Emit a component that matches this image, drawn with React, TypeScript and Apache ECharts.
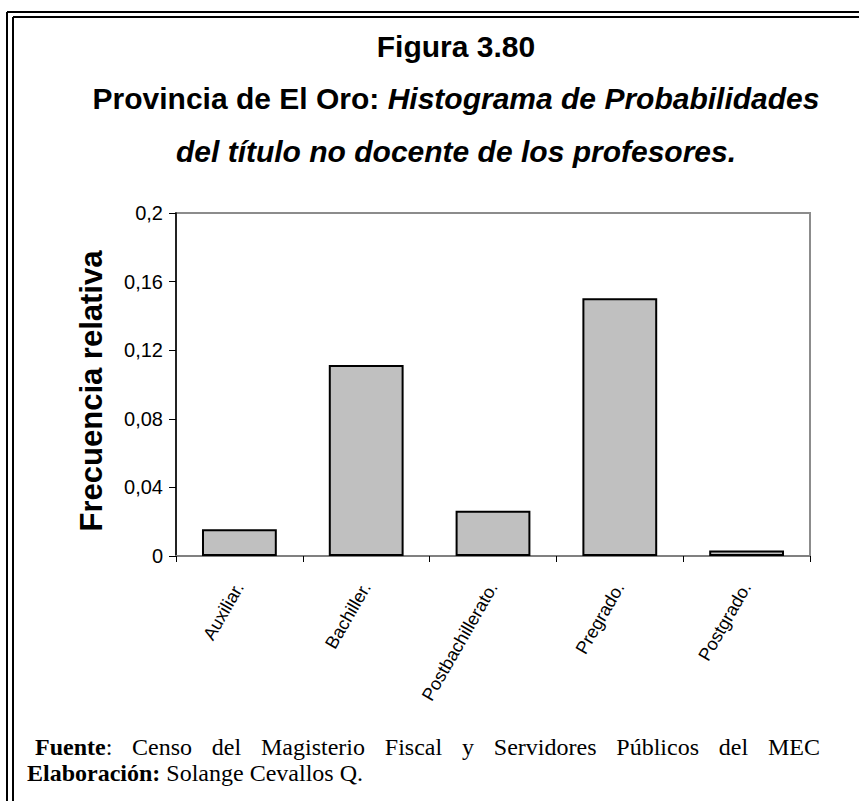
import React, { useEffect, useRef } from 'react';
import * as echarts from 'echarts';

const categories = ['Auxiliar.', 'Bachiller.', 'Postbachillerato.', 'Pregrado.', 'Postgrado.'];
const values = [0.0156, 0.1114, 0.0264, 0.1503, 0.0032];
const yMin = 0;
const yMax = 0.2;
const yStep = 0.04;

const titleLine1 = 'Figura 3.80';
const titleLine2a = 'Provincia de El Oro: ';
const titleLine2b = 'Histograma de Probabilidades';
const titleLine3 = 'del título no docente de los profesores.';
const yName = 'Frecuencia relativa';
const sourceLabel = 'Fuente';
const sourceText = 'Censo del Magisterio Fiscal y Servidores Públicos del MEC';
const authorLabel = 'Elaboración:';
const authorText = ' Solange Cevallos Q.';

const SANS = '"Liberation Sans", Arial, sans-serif';
const SERIF = '"Liberation Serif", "Times New Roman", serif';
const FOOT = 24;

function measure(text: string, font: string) {
  const ctx = document.createElement('canvas').getContext('2d');
  if (!ctx) return text.length * 11;
  ctx.font = font;
  return ctx.measureText(text).width;
}

function footerLine1(xLabel: number, x0: number, x1: number, y: number) {
  const regFont = `${FOOT}px ${SERIF}`;
  const words = sourceText.split(' ');
  const widths = words.map((w) => measure(w, regFont));
  const total = widths.reduce((a, b) => a + b, 0);
  const gap = (x1 - x0 - total) / (words.length - 1);
  const els: any[] = [
    {
      type: 'text',
      x: xLabel,
      y,
      style: {
        text: `{b|${sourceLabel}}{r|:}`,
        align: 'left',
        verticalAlign: 'middle',
        rich: {
          b: { fontSize: FOOT, fontWeight: 'bold', fontFamily: SERIF, color: '#000', lineHeight: 22 },
          r: { fontSize: FOOT, fontFamily: SERIF, color: '#000', lineHeight: 22 },
        },
      },
    },
  ];
  let x = x0;
  words.forEach((w, i) => {
    els.push({
      type: 'text',
      x,
      y,
      style: { text: w, font: regFont, fill: '#000', align: 'left', verticalAlign: 'middle', lineHeight: 22 },
    });
    x += widths[i] + gap;
  });
  return els;
}

export default function App() {
  const ref = useRef<HTMLDivElement>(null);
  useEffect(() => {
    if (!ref.current) return;
    const chart = echarts.init(ref.current, undefined, { renderer: 'svg' });
    const fmt = (v: number) => parseFloat(v.toFixed(2)).toString().replace('.', ',');
    chart.setOption({
      animation: false,
      backgroundColor: '#fff',
      grid: {
        left: 176,
        top: 213,
        right: 49,
        bottom: 245,
        show: true,
        borderColor: '#8c8c8c',
        borderWidth: 2,
        backgroundColor: 'transparent',
      },
      xAxis: {
        type: 'category',
        data: categories,
        boundaryGap: true,
        axisLine: { show: true, lineStyle: { color: '#808080', width: 2 } },
        axisTick: { show: true, length: 6, lineStyle: { color: '#000', width: 1 } },
        axisLabel: {
          rotate: 60,
          margin: 28,
          fontSize: 18,
          fontFamily: SANS,
          color: '#000',
          interval: 0,
        },
        splitLine: { show: false },
      },
      yAxis: {
        type: 'value',
        min: yMin,
        max: yMax,
        interval: yStep,
        axisLine: { show: true, lineStyle: { color: '#000', width: 1.5 } },
        axisTick: { show: true, length: 7, lineStyle: { color: '#000', width: 1 } },
        axisLabel: { formatter: fmt, fontSize: 20, fontFamily: SANS, color: '#000', margin: 13 },
        splitLine: { show: false },
      },
      series: [
        {
          type: 'bar',
          data: values,
          barCategoryGap: '41%',
          itemStyle: { color: '#c0c0c0', borderColor: '#000', borderWidth: 2 },
        },
      ],
      graphic: [
        { type: 'line', shape: { x1: 7, y1: 12, x2: 859, y2: 12 }, style: { stroke: '#000', lineWidth: 2 } },
        { type: 'line', shape: { x1: 7, y1: 12, x2: 7, y2: 801 }, style: { stroke: '#000', lineWidth: 2 } },
        { type: 'line', shape: { x1: 13, y1: 17, x2: 859, y2: 17 }, style: { stroke: '#000', lineWidth: 2 } },
        { type: 'line', shape: { x1: 13, y1: 17, x2: 13, y2: 801 }, style: { stroke: '#000', lineWidth: 2 } },
        {
          type: 'text',
          x: 456,
          y: 46,
          style: {
            text: titleLine1,
            fill: '#000',
            font: `bold 30px ${SANS}`,
            align: 'center',
            verticalAlign: 'middle',
          },
        },
        {
          type: 'text',
          x: 456,
          y: 98,
          style: {
            text: `{n|${titleLine2a}}{i|${titleLine2b}}`,
            align: 'center',
            verticalAlign: 'middle',
            rich: {
              n: { fontSize: 30, fontWeight: 'bold', fontFamily: SANS, color: '#000' },
              i: { fontSize: 30, fontWeight: 'bold', fontStyle: 'italic', fontFamily: SANS, color: '#000' },
            },
          },
        },
        {
          type: 'text',
          x: 456,
          y: 151,
          style: {
            text: titleLine3,
            fill: '#000',
            font: `italic bold 30px ${SANS}`,
            align: 'center',
            verticalAlign: 'middle',
          },
        },
        {
          type: 'text',
          x: 91,
          y: 391,
          rotation: Math.PI / 2,
          style: {
            text: yName,
            fill: '#000',
            font: `bold 31px ${SANS}`,
            align: 'center',
            verticalAlign: 'middle',
          },
        },
        ...footerLine1(35, 132, 820, 747),
        {
          type: 'text',
          x: 27,
          y: 773,
          style: {
            text: `{b|${authorLabel}}{r|${authorText}}`,
            align: 'left',
            verticalAlign: 'middle',
            rich: {
              b: { fontSize: FOOT, fontWeight: 'bold', fontFamily: SERIF, color: '#000', lineHeight: 22 },
              r: { fontSize: FOOT, fontFamily: SERIF, color: '#000', lineHeight: 22 },
            },
          },
        },
      ],
    });
    return () => chart.dispose();
  }, []);
  return <div ref={ref} style={{ position: 'absolute', left: 0, top: 0, width: 859, height: 801 }} />;
}
